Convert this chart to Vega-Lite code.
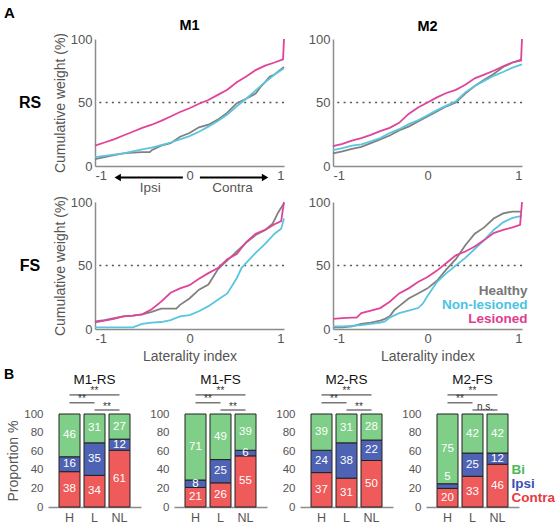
{
  "$schema": "https://vega.github.io/schema/vega-lite/v6.json",
  "background": "white",
  "padding": {"left": 4, "top": 5, "right": 0, "bottom": 0},
  "title": {"text": "A", "anchor": "start", "frame": "group", "fontSize": 15, "fontWeight": "bold", "color": "#000", "offset": -3},
  "spacing": 5,
  "resolve": {"scale": {"color": "independent", "shape": "independent"}},
  "config": {
    "font": "Liberation Sans",
    "view": {"stroke": null},
    "axis": {"grid": false, "ticks": false, "domainColor": "#8c8c8c", "domainWidth": 1.5, "labelColor": "#555", "labelFontSize": 13, "titleColor": "#555", "titleFontSize": 14, "titleFontWeight": "normal", "labelPadding": 3, "titlePadding": 3, "labelOverlap": false},
    "title": {"color": "#000"}
  },
  "datasets": {
    "curves": [
      {"panel":"M1-RS","series":"Healthy","li":-1,"w":5.5},{"panel":"M1-RS","series":"Healthy","li":-0.9,"w":7},{"panel":"M1-RS","series":"Healthy","li":-0.8,"w":8.5},{"panel":"M1-RS","series":"Healthy","li":-0.7,"w":10},{"panel":"M1-RS","series":"Healthy","li":-0.6,"w":10.5},{"panel":"M1-RS","series":"Healthy","li":-0.5,"w":11},{"panel":"M1-RS","series":"Healthy","li":-0.42,"w":11},{"panel":"M1-RS","series":"Healthy","li":-0.4,"w":12.5},{"panel":"M1-RS","series":"Healthy","li":-0.3,"w":16},{"panel":"M1-RS","series":"Healthy","li":-0.2,"w":18},{"panel":"M1-RS","series":"Healthy","li":-0.1,"w":23},{"panel":"M1-RS","series":"Healthy","li":0,"w":26},{"panel":"M1-RS","series":"Healthy","li":0.1,"w":30.5},{"panel":"M1-RS","series":"Healthy","li":0.2,"w":32.5},{"panel":"M1-RS","series":"Healthy","li":0.3,"w":36.5},{"panel":"M1-RS","series":"Healthy","li":0.4,"w":42},{"panel":"M1-RS","series":"Healthy","li":0.5,"w":49.5},{"panel":"M1-RS","series":"Healthy","li":0.6,"w":53},{"panel":"M1-RS","series":"Healthy","li":0.7,"w":57},{"panel":"M1-RS","series":"Healthy","li":0.75,"w":62},{"panel":"M1-RS","series":"Healthy","li":0.8,"w":66},{"panel":"M1-RS","series":"Healthy","li":0.85,"w":70.5},{"panel":"M1-RS","series":"Healthy","li":0.9,"w":72},{"panel":"M1-RS","series":"Healthy","li":0.95,"w":75},{"panel":"M1-RS","series":"Healthy","li":1,"w":78},
      {"panel":"M1-RS","series":"Non-lesioned","li":-1,"w":7},{"panel":"M1-RS","series":"Non-lesioned","li":-0.9,"w":8},{"panel":"M1-RS","series":"Non-lesioned","li":-0.8,"w":9},{"panel":"M1-RS","series":"Non-lesioned","li":-0.7,"w":10},{"panel":"M1-RS","series":"Non-lesioned","li":-0.6,"w":11.5},{"panel":"M1-RS","series":"Non-lesioned","li":-0.5,"w":13},{"panel":"M1-RS","series":"Non-lesioned","li":-0.4,"w":14.5},{"panel":"M1-RS","series":"Non-lesioned","li":-0.3,"w":16.5},{"panel":"M1-RS","series":"Non-lesioned","li":-0.2,"w":18.5},{"panel":"M1-RS","series":"Non-lesioned","li":-0.1,"w":21},{"panel":"M1-RS","series":"Non-lesioned","li":0,"w":23.5},{"panel":"M1-RS","series":"Non-lesioned","li":0.1,"w":27},{"panel":"M1-RS","series":"Non-lesioned","li":0.2,"w":31},{"panel":"M1-RS","series":"Non-lesioned","li":0.3,"w":35.5},{"panel":"M1-RS","series":"Non-lesioned","li":0.4,"w":40.5},{"panel":"M1-RS","series":"Non-lesioned","li":0.5,"w":47},{"panel":"M1-RS","series":"Non-lesioned","li":0.6,"w":53},{"panel":"M1-RS","series":"Non-lesioned","li":0.7,"w":59.5},{"panel":"M1-RS","series":"Non-lesioned","li":0.8,"w":66},{"panel":"M1-RS","series":"Non-lesioned","li":0.9,"w":72},{"panel":"M1-RS","series":"Non-lesioned","li":1,"w":77},
      {"panel":"M1-RS","series":"Lesioned","li":-1,"w":16},{"panel":"M1-RS","series":"Lesioned","li":-0.9,"w":18.5},{"panel":"M1-RS","series":"Lesioned","li":-0.8,"w":21},{"panel":"M1-RS","series":"Lesioned","li":-0.7,"w":24},{"panel":"M1-RS","series":"Lesioned","li":-0.6,"w":27},{"panel":"M1-RS","series":"Lesioned","li":-0.5,"w":30},{"panel":"M1-RS","series":"Lesioned","li":-0.4,"w":32.5},{"panel":"M1-RS","series":"Lesioned","li":-0.3,"w":35.5},{"panel":"M1-RS","series":"Lesioned","li":-0.2,"w":39},{"panel":"M1-RS","series":"Lesioned","li":-0.1,"w":42.5},{"panel":"M1-RS","series":"Lesioned","li":0,"w":45.5},{"panel":"M1-RS","series":"Lesioned","li":0.1,"w":49},{"panel":"M1-RS","series":"Lesioned","li":0.2,"w":52},{"panel":"M1-RS","series":"Lesioned","li":0.3,"w":56},{"panel":"M1-RS","series":"Lesioned","li":0.4,"w":60},{"panel":"M1-RS","series":"Lesioned","li":0.5,"w":66},{"panel":"M1-RS","series":"Lesioned","li":0.6,"w":70.5},{"panel":"M1-RS","series":"Lesioned","li":0.7,"w":75.5},{"panel":"M1-RS","series":"Lesioned","li":0.8,"w":79},{"panel":"M1-RS","series":"Lesioned","li":0.9,"w":81.5},{"panel":"M1-RS","series":"Lesioned","li":0.99,"w":84},{"panel":"M1-RS","series":"Lesioned","li":1,"w":100},
      {"panel":"M2-RS","series":"Healthy","li":-1,"w":10},{"panel":"M2-RS","series":"Healthy","li":-0.9,"w":11.5},{"panel":"M2-RS","series":"Healthy","li":-0.8,"w":13.5},{"panel":"M2-RS","series":"Healthy","li":-0.7,"w":15},{"panel":"M2-RS","series":"Healthy","li":-0.6,"w":18},{"panel":"M2-RS","series":"Healthy","li":-0.5,"w":21},{"panel":"M2-RS","series":"Healthy","li":-0.4,"w":24},{"panel":"M2-RS","series":"Healthy","li":-0.3,"w":28},{"panel":"M2-RS","series":"Healthy","li":-0.2,"w":31},{"panel":"M2-RS","series":"Healthy","li":-0.1,"w":35},{"panel":"M2-RS","series":"Healthy","li":0,"w":39},{"panel":"M2-RS","series":"Healthy","li":0.1,"w":43},{"panel":"M2-RS","series":"Healthy","li":0.2,"w":47},{"panel":"M2-RS","series":"Healthy","li":0.3,"w":50},{"panel":"M2-RS","series":"Healthy","li":0.4,"w":57},{"panel":"M2-RS","series":"Healthy","li":0.5,"w":63},{"panel":"M2-RS","series":"Healthy","li":0.6,"w":68},{"panel":"M2-RS","series":"Healthy","li":0.7,"w":72.5},{"panel":"M2-RS","series":"Healthy","li":0.8,"w":78},{"panel":"M2-RS","series":"Healthy","li":0.9,"w":81.5},{"panel":"M2-RS","series":"Healthy","li":1,"w":84},
      {"panel":"M2-RS","series":"Non-lesioned","li":-1,"w":12.5},{"panel":"M2-RS","series":"Non-lesioned","li":-0.9,"w":14},{"panel":"M2-RS","series":"Non-lesioned","li":-0.8,"w":16},{"panel":"M2-RS","series":"Non-lesioned","li":-0.7,"w":17},{"panel":"M2-RS","series":"Non-lesioned","li":-0.6,"w":19.5},{"panel":"M2-RS","series":"Non-lesioned","li":-0.5,"w":22},{"panel":"M2-RS","series":"Non-lesioned","li":-0.4,"w":26},{"panel":"M2-RS","series":"Non-lesioned","li":-0.3,"w":29},{"panel":"M2-RS","series":"Non-lesioned","li":-0.2,"w":33},{"panel":"M2-RS","series":"Non-lesioned","li":-0.1,"w":36},{"panel":"M2-RS","series":"Non-lesioned","li":0,"w":40},{"panel":"M2-RS","series":"Non-lesioned","li":0.1,"w":44},{"panel":"M2-RS","series":"Non-lesioned","li":0.2,"w":47.5},{"panel":"M2-RS","series":"Non-lesioned","li":0.3,"w":51},{"panel":"M2-RS","series":"Non-lesioned","li":0.4,"w":58},{"panel":"M2-RS","series":"Non-lesioned","li":0.5,"w":63},{"panel":"M2-RS","series":"Non-lesioned","li":0.6,"w":67},{"panel":"M2-RS","series":"Non-lesioned","li":0.7,"w":71},{"panel":"M2-RS","series":"Non-lesioned","li":0.8,"w":74},{"panel":"M2-RS","series":"Non-lesioned","li":0.9,"w":77.5},{"panel":"M2-RS","series":"Non-lesioned","li":1,"w":80},
      {"panel":"M2-RS","series":"Lesioned","li":-1,"w":15.7},{"panel":"M2-RS","series":"Lesioned","li":-0.9,"w":17.5},{"panel":"M2-RS","series":"Lesioned","li":-0.8,"w":20},{"panel":"M2-RS","series":"Lesioned","li":-0.7,"w":22},{"panel":"M2-RS","series":"Lesioned","li":-0.6,"w":24.5},{"panel":"M2-RS","series":"Lesioned","li":-0.5,"w":27.5},{"panel":"M2-RS","series":"Lesioned","li":-0.4,"w":30},{"panel":"M2-RS","series":"Lesioned","li":-0.3,"w":34},{"panel":"M2-RS","series":"Lesioned","li":-0.2,"w":41},{"panel":"M2-RS","series":"Lesioned","li":-0.1,"w":46},{"panel":"M2-RS","series":"Lesioned","li":0,"w":50},{"panel":"M2-RS","series":"Lesioned","li":0.1,"w":54},{"panel":"M2-RS","series":"Lesioned","li":0.2,"w":57.5},{"panel":"M2-RS","series":"Lesioned","li":0.3,"w":60},{"panel":"M2-RS","series":"Lesioned","li":0.4,"w":64},{"panel":"M2-RS","series":"Lesioned","li":0.5,"w":69},{"panel":"M2-RS","series":"Lesioned","li":0.6,"w":72},{"panel":"M2-RS","series":"Lesioned","li":0.7,"w":75},{"panel":"M2-RS","series":"Lesioned","li":0.8,"w":78.5},{"panel":"M2-RS","series":"Lesioned","li":0.9,"w":81.5},{"panel":"M2-RS","series":"Lesioned","li":0.99,"w":83},{"panel":"M2-RS","series":"Lesioned","li":1,"w":100},
      {"panel":"M1-FS","series":"Healthy","li":-1,"w":6},{"panel":"M1-FS","series":"Healthy","li":-0.9,"w":7},{"panel":"M1-FS","series":"Healthy","li":-0.8,"w":8.5},{"panel":"M1-FS","series":"Healthy","li":-0.7,"w":10},{"panel":"M1-FS","series":"Healthy","li":-0.6,"w":10.5},{"panel":"M1-FS","series":"Healthy","li":-0.5,"w":11.5},{"panel":"M1-FS","series":"Healthy","li":-0.4,"w":13.5},{"panel":"M1-FS","series":"Healthy","li":-0.3,"w":16},{"panel":"M1-FS","series":"Healthy","li":-0.2,"w":16},{"panel":"M1-FS","series":"Healthy","li":-0.14,"w":16},{"panel":"M1-FS","series":"Healthy","li":-0.1,"w":19},{"panel":"M1-FS","series":"Healthy","li":0,"w":24},{"panel":"M1-FS","series":"Healthy","li":0.1,"w":31},{"panel":"M1-FS","series":"Healthy","li":0.2,"w":35},{"panel":"M1-FS","series":"Healthy","li":0.25,"w":41},{"panel":"M1-FS","series":"Healthy","li":0.3,"w":47},{"panel":"M1-FS","series":"Healthy","li":0.4,"w":54},{"panel":"M1-FS","series":"Healthy","li":0.5,"w":61},{"panel":"M1-FS","series":"Healthy","li":0.6,"w":68},{"panel":"M1-FS","series":"Healthy","li":0.7,"w":74},{"panel":"M1-FS","series":"Healthy","li":0.8,"w":78},{"panel":"M1-FS","series":"Healthy","li":0.88,"w":83},{"panel":"M1-FS","series":"Healthy","li":0.94,"w":92},{"panel":"M1-FS","series":"Healthy","li":1,"w":99},
      {"panel":"M1-FS","series":"Non-lesioned","li":-1,"w":1.3},{"panel":"M1-FS","series":"Non-lesioned","li":-0.6,"w":1.3},{"panel":"M1-FS","series":"Non-lesioned","li":-0.5,"w":4},{"panel":"M1-FS","series":"Non-lesioned","li":-0.4,"w":5},{"panel":"M1-FS","series":"Non-lesioned","li":-0.3,"w":5.5},{"panel":"M1-FS","series":"Non-lesioned","li":-0.2,"w":7},{"panel":"M1-FS","series":"Non-lesioned","li":-0.1,"w":10},{"panel":"M1-FS","series":"Non-lesioned","li":0,"w":11},{"panel":"M1-FS","series":"Non-lesioned","li":0.1,"w":14},{"panel":"M1-FS","series":"Non-lesioned","li":0.2,"w":18},{"panel":"M1-FS","series":"Non-lesioned","li":0.3,"w":23},{"panel":"M1-FS","series":"Non-lesioned","li":0.4,"w":28},{"panel":"M1-FS","series":"Non-lesioned","li":0.5,"w":40},{"panel":"M1-FS","series":"Non-lesioned","li":0.55,"w":48},{"panel":"M1-FS","series":"Non-lesioned","li":0.6,"w":52},{"panel":"M1-FS","series":"Non-lesioned","li":0.7,"w":60},{"panel":"M1-FS","series":"Non-lesioned","li":0.8,"w":67},{"panel":"M1-FS","series":"Non-lesioned","li":0.9,"w":75},{"panel":"M1-FS","series":"Non-lesioned","li":0.97,"w":79},{"panel":"M1-FS","series":"Non-lesioned","li":1,"w":87},
      {"panel":"M1-FS","series":"Lesioned","li":-1,"w":5.3},{"panel":"M1-FS","series":"Lesioned","li":-0.9,"w":6.6},{"panel":"M1-FS","series":"Lesioned","li":-0.8,"w":8},{"panel":"M1-FS","series":"Lesioned","li":-0.7,"w":10},{"panel":"M1-FS","series":"Lesioned","li":-0.6,"w":10.5},{"panel":"M1-FS","series":"Lesioned","li":-0.5,"w":11.5},{"panel":"M1-FS","series":"Lesioned","li":-0.4,"w":15.5},{"panel":"M1-FS","series":"Lesioned","li":-0.3,"w":21.5},{"panel":"M1-FS","series":"Lesioned","li":-0.2,"w":28.5},{"panel":"M1-FS","series":"Lesioned","li":-0.1,"w":32},{"panel":"M1-FS","series":"Lesioned","li":0,"w":34.5},{"panel":"M1-FS","series":"Lesioned","li":0.1,"w":39.5},{"panel":"M1-FS","series":"Lesioned","li":0.2,"w":44},{"panel":"M1-FS","series":"Lesioned","li":0.3,"w":48},{"panel":"M1-FS","series":"Lesioned","li":0.4,"w":55},{"panel":"M1-FS","series":"Lesioned","li":0.5,"w":59},{"panel":"M1-FS","series":"Lesioned","li":0.6,"w":68.5},{"panel":"M1-FS","series":"Lesioned","li":0.7,"w":75},{"panel":"M1-FS","series":"Lesioned","li":0.8,"w":78},{"panel":"M1-FS","series":"Lesioned","li":0.9,"w":82.5},{"panel":"M1-FS","series":"Lesioned","li":0.97,"w":85},{"panel":"M1-FS","series":"Lesioned","li":1,"w":100},
      {"panel":"M2-FS","series":"Healthy","li":-1,"w":1.3},{"panel":"M2-FS","series":"Healthy","li":-0.9,"w":1.3},{"panel":"M2-FS","series":"Healthy","li":-0.8,"w":2},{"panel":"M2-FS","series":"Healthy","li":-0.7,"w":4},{"panel":"M2-FS","series":"Healthy","li":-0.6,"w":5},{"panel":"M2-FS","series":"Healthy","li":-0.5,"w":6.6},{"panel":"M2-FS","series":"Healthy","li":-0.45,"w":8},{"panel":"M2-FS","series":"Healthy","li":-0.4,"w":10},{"panel":"M2-FS","series":"Healthy","li":-0.35,"w":15},{"panel":"M2-FS","series":"Healthy","li":-0.3,"w":18},{"panel":"M2-FS","series":"Healthy","li":-0.2,"w":24},{"panel":"M2-FS","series":"Healthy","li":-0.1,"w":28},{"panel":"M2-FS","series":"Healthy","li":0,"w":32},{"panel":"M2-FS","series":"Healthy","li":0.1,"w":38},{"panel":"M2-FS","series":"Healthy","li":0.2,"w":47},{"panel":"M2-FS","series":"Healthy","li":0.3,"w":55},{"panel":"M2-FS","series":"Healthy","li":0.4,"w":66},{"panel":"M2-FS","series":"Healthy","li":0.5,"w":75},{"panel":"M2-FS","series":"Healthy","li":0.6,"w":80},{"panel":"M2-FS","series":"Healthy","li":0.7,"w":87},{"panel":"M2-FS","series":"Healthy","li":0.8,"w":91},{"panel":"M2-FS","series":"Healthy","li":0.9,"w":92.5},{"panel":"M2-FS","series":"Healthy","li":1,"w":92.5},
      {"panel":"M2-FS","series":"Non-lesioned","li":-1,"w":2},{"panel":"M2-FS","series":"Non-lesioned","li":-0.9,"w":2},{"panel":"M2-FS","series":"Non-lesioned","li":-0.8,"w":2.5},{"panel":"M2-FS","series":"Non-lesioned","li":-0.7,"w":3},{"panel":"M2-FS","series":"Non-lesioned","li":-0.6,"w":4},{"panel":"M2-FS","series":"Non-lesioned","li":-0.5,"w":5},{"panel":"M2-FS","series":"Non-lesioned","li":-0.45,"w":6},{"panel":"M2-FS","series":"Non-lesioned","li":-0.4,"w":9},{"panel":"M2-FS","series":"Non-lesioned","li":-0.3,"w":12.5},{"panel":"M2-FS","series":"Non-lesioned","li":-0.2,"w":14.5},{"panel":"M2-FS","series":"Non-lesioned","li":-0.1,"w":16.5},{"panel":"M2-FS","series":"Non-lesioned","li":-0.05,"w":20},{"panel":"M2-FS","series":"Non-lesioned","li":0,"w":26},{"panel":"M2-FS","series":"Non-lesioned","li":0.1,"w":37},{"panel":"M2-FS","series":"Non-lesioned","li":0.2,"w":44},{"panel":"M2-FS","series":"Non-lesioned","li":0.3,"w":50},{"panel":"M2-FS","series":"Non-lesioned","li":0.4,"w":56},{"panel":"M2-FS","series":"Non-lesioned","li":0.5,"w":63},{"panel":"M2-FS","series":"Non-lesioned","li":0.6,"w":70},{"panel":"M2-FS","series":"Non-lesioned","li":0.7,"w":78},{"panel":"M2-FS","series":"Non-lesioned","li":0.8,"w":84},{"panel":"M2-FS","series":"Non-lesioned","li":0.9,"w":87.5},{"panel":"M2-FS","series":"Non-lesioned","li":1,"w":89},
      {"panel":"M2-FS","series":"Lesioned","li":-1,"w":8},{"panel":"M2-FS","series":"Lesioned","li":-0.9,"w":8.5},{"panel":"M2-FS","series":"Lesioned","li":-0.8,"w":9},{"panel":"M2-FS","series":"Lesioned","li":-0.75,"w":9},{"panel":"M2-FS","series":"Lesioned","li":-0.7,"w":12.5},{"panel":"M2-FS","series":"Lesioned","li":-0.6,"w":14.5},{"panel":"M2-FS","series":"Lesioned","li":-0.5,"w":16.5},{"panel":"M2-FS","series":"Lesioned","li":-0.4,"w":21.5},{"panel":"M2-FS","series":"Lesioned","li":-0.3,"w":28},{"panel":"M2-FS","series":"Lesioned","li":-0.2,"w":32},{"panel":"M2-FS","series":"Lesioned","li":-0.1,"w":37},{"panel":"M2-FS","series":"Lesioned","li":0,"w":41},{"panel":"M2-FS","series":"Lesioned","li":0.1,"w":46},{"panel":"M2-FS","series":"Lesioned","li":0.2,"w":52},{"panel":"M2-FS","series":"Lesioned","li":0.3,"w":58},{"panel":"M2-FS","series":"Lesioned","li":0.4,"w":61},{"panel":"M2-FS","series":"Lesioned","li":0.5,"w":65},{"panel":"M2-FS","series":"Lesioned","li":0.6,"w":70},{"panel":"M2-FS","series":"Lesioned","li":0.7,"w":75.5},{"panel":"M2-FS","series":"Lesioned","li":0.8,"w":78},{"panel":"M2-FS","series":"Lesioned","li":0.9,"w":80},{"panel":"M2-FS","series":"Lesioned","li":0.98,"w":82},{"panel":"M2-FS","series":"Lesioned","li":1,"w":100}
    ],
    "bars": [
      {"panel":"M1-RS","group":"H","type":"Contra","rank":1,"pct":38},{"panel":"M1-RS","group":"H","type":"Ipsi","rank":2,"pct":16},{"panel":"M1-RS","group":"H","type":"Bi","rank":3,"pct":46},
      {"panel":"M1-RS","group":"L","type":"Contra","rank":1,"pct":34},{"panel":"M1-RS","group":"L","type":"Ipsi","rank":2,"pct":35},{"panel":"M1-RS","group":"L","type":"Bi","rank":3,"pct":31},
      {"panel":"M1-RS","group":"NL","type":"Contra","rank":1,"pct":61},{"panel":"M1-RS","group":"NL","type":"Ipsi","rank":2,"pct":12},{"panel":"M1-RS","group":"NL","type":"Bi","rank":3,"pct":27},
      {"panel":"M1-FS","group":"H","type":"Contra","rank":1,"pct":21},{"panel":"M1-FS","group":"H","type":"Ipsi","rank":2,"pct":8},{"panel":"M1-FS","group":"H","type":"Bi","rank":3,"pct":71},
      {"panel":"M1-FS","group":"L","type":"Contra","rank":1,"pct":26},{"panel":"M1-FS","group":"L","type":"Ipsi","rank":2,"pct":25},{"panel":"M1-FS","group":"L","type":"Bi","rank":3,"pct":49},
      {"panel":"M1-FS","group":"NL","type":"Contra","rank":1,"pct":55},{"panel":"M1-FS","group":"NL","type":"Ipsi","rank":2,"pct":6},{"panel":"M1-FS","group":"NL","type":"Bi","rank":3,"pct":39},
      {"panel":"M2-RS","group":"H","type":"Contra","rank":1,"pct":37},{"panel":"M2-RS","group":"H","type":"Ipsi","rank":2,"pct":24},{"panel":"M2-RS","group":"H","type":"Bi","rank":3,"pct":39},
      {"panel":"M2-RS","group":"L","type":"Contra","rank":1,"pct":31},{"panel":"M2-RS","group":"L","type":"Ipsi","rank":2,"pct":38},{"panel":"M2-RS","group":"L","type":"Bi","rank":3,"pct":31},
      {"panel":"M2-RS","group":"NL","type":"Contra","rank":1,"pct":50},{"panel":"M2-RS","group":"NL","type":"Ipsi","rank":2,"pct":22},{"panel":"M2-RS","group":"NL","type":"Bi","rank":3,"pct":28},
      {"panel":"M2-FS","group":"H","type":"Contra","rank":1,"pct":20},{"panel":"M2-FS","group":"H","type":"Ipsi","rank":2,"pct":5},{"panel":"M2-FS","group":"H","type":"Bi","rank":3,"pct":75},
      {"panel":"M2-FS","group":"L","type":"Contra","rank":1,"pct":33},{"panel":"M2-FS","group":"L","type":"Ipsi","rank":2,"pct":25},{"panel":"M2-FS","group":"L","type":"Bi","rank":3,"pct":42},
      {"panel":"M2-FS","group":"NL","type":"Contra","rank":1,"pct":46},{"panel":"M2-FS","group":"NL","type":"Ipsi","rank":2,"pct":12},{"panel":"M2-FS","group":"NL","type":"Bi","rank":3,"pct":42}
    ],
    "sig": [
      {"panel":"M1-RS","a":"H","b":"NL","p":"**"},{"panel":"M1-RS","a":"H","b":"L","p":"**"},{"panel":"M1-RS","a":"L","b":"NL","p":"**"},
      {"panel":"M1-FS","a":"H","b":"NL","p":"**"},{"panel":"M1-FS","a":"H","b":"L","p":"**"},{"panel":"M1-FS","a":"L","b":"NL","p":"**"},
      {"panel":"M2-RS","a":"H","b":"NL","p":"**"},{"panel":"M2-RS","a":"H","b":"L","p":"**"},{"panel":"M2-RS","a":"L","b":"NL","p":"**"},
      {"panel":"M2-FS","a":"H","b":"NL","p":"**"},{"panel":"M2-FS","a":"H","b":"L","p":"**"},{"panel":"M2-FS","a":"L","b":"NL","p":"n.s."}
    ],
    "arrows": [
      {"side":"Ipsi","from":-0.07,"to":-0.76},
      {"side":"Contra","from":0.11,"to":0.8}
    ]
  },
  "vconcat": [
    {
      "spacing": 0,
      "resolve": {"scale": {"color": "independent", "shape": "independent"}},
      "vconcat": [
        {
          "bounds": "flush",
          "spacing": 49,
          "hconcat": [
            {
              "width": 42, "height": 127,
              "data": {"values": [{"row": "RS"}]},
              "mark": {"type": "text", "fontSize": 16, "fontWeight": "bold", "color": "#000", "dx": 5},
              "encoding": {"text": {"field": "row"}}
            },
            {
              "width": 189, "height": 127,
              "title": {"text": "M1", "fontSize": 14.5, "fontWeight": "bold", "offset": -1},
              "layer": [
                {
                  "data": {"values": [{"w": 50}]},
                  "mark": {"type": "rule", "color": "#555", "strokeDash": [2, 4.3], "strokeWidth": 1.3},
                  "encoding": {"y": {"field": "w", "type": "quantitative", "title": "Cumulative weight (%)"}}
                },
                {
                  "data": {"name": "curves"},
                  "transform": [{"filter": "datum.panel === 'M1-RS'"}],
                  "mark": {"type": "line", "strokeWidth": 1.8},
                  "encoding": {
                    "x": {"field": "li", "type": "quantitative", "title": null, "scale": {"domain": [-1, 1], "nice": false}, "axis": {"values": [-1, 0, 1], "labelExpr": "'' + datum.value"}},
                    "y": {"field": "w", "type": "quantitative", "title": "Cumulative weight (%)", "scale": {"domain": [0, 100], "nice": false}, "axis": {"values": [0, 50, 100]}},
                    "color": {"field": "series", "type": "nominal", "scale": {"domain": ["Healthy", "Non-lesioned", "Lesioned"], "range": ["#808080", "#5ac5df", "#e0449a"]}, "legend": null}
                  }
                },
                {
                  "data": {"name": "arrows"},
                  "mark": {"type": "rule", "color": "#000", "strokeWidth": 2},
                  "encoding": {
                    "x": {"field": "from", "type": "quantitative", "title": null},
                    "x2": {"field": "to"},
                    "y": {"datum": -9}
                  }
                },
                {
                  "data": {"name": "arrows"},
                  "mark": {"type": "point", "filled": true, "color": "#000", "size": 55, "opacity": 1},
                  "encoding": {
                    "x": {"field": "to", "type": "quantitative", "title": null},
                    "y": {"datum": -9},
                    "shape": {"field": "side", "type": "nominal", "scale": {"domain": ["Ipsi", "Contra"], "range": ["triangle-left", "triangle-right"]}, "legend": null}
                  }
                },
                {
                  "data": {"name": "arrows"},
                  "transform": [{"fold": ["from", "to"], "as": ["end", "pos"]}],
                  "mark": {"type": "text", "fontSize": 13.5, "color": "#555"},
                  "encoding": {
                    "x": {"aggregate": "mean", "field": "pos", "type": "quantitative", "title": null},
                    "y": {"datum": -17},
                    "text": {"field": "side", "type": "nominal"}
                  }
                }
              ]
            },
            {
              "width": 189, "height": 127,
              "title": {"text": "M2", "fontSize": 14.5, "fontWeight": "bold", "offset": -1},
              "layer": [
                {
                  "data": {"values": [{"w": 50}]},
                  "mark": {"type": "rule", "color": "#555", "strokeDash": [2, 4.3], "strokeWidth": 1.3},
                  "encoding": {"y": {"field": "w", "type": "quantitative", "title": null}}
                },
                {
                  "data": {"name": "curves"},
                  "transform": [{"filter": "datum.panel === 'M2-RS'"}],
                  "mark": {"type": "line", "strokeWidth": 1.8},
                  "encoding": {
                    "x": {"field": "li", "type": "quantitative", "title": null, "scale": {"domain": [-1, 1], "nice": false}, "axis": {"values": [-1, 0, 1], "labelExpr": "'' + datum.value"}},
                    "y": {"field": "w", "type": "quantitative", "title": null, "scale": {"domain": [0, 100], "nice": false}, "axis": {"values": [0, 50, 100]}},
                    "color": {"field": "series", "type": "nominal", "scale": {"domain": ["Healthy", "Non-lesioned", "Lesioned"], "range": ["#808080", "#5ac5df", "#e0449a"]}, "legend": null}
                  }
                }
              ]
            }
          ]
        },
        {
          "bounds": "flush",
          "spacing": 49,
          "resolve": {"scale": {"color": "independent"}},
          "hconcat": [
            {
              "width": 42, "height": 127,
              "data": {"values": [{"row": "FS"}]},
              "mark": {"type": "text", "fontSize": 16, "fontWeight": "bold", "color": "#000", "dx": 5},
              "encoding": {"text": {"field": "row"}}
            },
            {
              "width": 189, "height": 127,
              "layer": [
                {
                  "data": {"values": [{"w": 50}]},
                  "mark": {"type": "rule", "color": "#555", "strokeDash": [2, 4.3], "strokeWidth": 1.3},
                  "encoding": {"y": {"field": "w", "type": "quantitative", "title": "Cumulative weight (%)"}}
                },
                {
                  "data": {"name": "curves"},
                  "transform": [{"filter": "datum.panel === 'M1-FS'"}],
                  "mark": {"type": "line", "strokeWidth": 1.8},
                  "encoding": {
                    "x": {"field": "li", "type": "quantitative", "title": "Laterality index", "scale": {"domain": [-1, 1], "nice": false}, "axis": {"values": [-1, 0, 1], "labelExpr": "'' + datum.value", "titlePadding": 4}},
                    "y": {"field": "w", "type": "quantitative", "title": "Cumulative weight (%)", "scale": {"domain": [0, 100], "nice": false}, "axis": {"values": [0, 50, 100]}},
                    "color": {"field": "series", "type": "nominal", "scale": {"domain": ["Healthy", "Non-lesioned", "Lesioned"], "range": ["#808080", "#5ac5df", "#e0449a"]}, "legend": null}
                  }
                }
              ]
            },
            {
              "width": 189, "height": 127,
              "layer": [
                {
                  "data": {"values": [{"w": 50}]},
                  "mark": {"type": "rule", "color": "#555", "strokeDash": [2, 4.3], "strokeWidth": 1.3},
                  "encoding": {"y": {"field": "w", "type": "quantitative", "title": null}}
                },
                {
                  "data": {"name": "curves"},
                  "transform": [{"filter": "datum.panel === 'M2-FS'"}],
                  "mark": {"type": "line", "strokeWidth": 1.8},
                  "encoding": {
                    "x": {"field": "li", "type": "quantitative", "title": "Laterality index", "scale": {"domain": [-1, 1], "nice": false}, "axis": {"values": [-1, 0, 1], "labelExpr": "'' + datum.value", "titlePadding": 4}},
                    "y": {"field": "w", "type": "quantitative", "title": null, "scale": {"domain": [0, 100], "nice": false}, "axis": {"values": [0, 50, 100]}},
                    "color": {
                      "field": "series", "type": "nominal",
                      "scale": {"domain": ["Healthy", "Non-lesioned", "Lesioned"], "range": ["#808080", "#5ac5df", "#e0449a"]},
                      "legend": {"orient": "none", "legendX": 181, "legendY": 82, "title": null, "padding": 0, "symbolSize": 0, "symbolStrokeWidth": 0, "labelOffset": 0, "labelAlign": "right", "labelFontSize": 13.5, "labelFontWeight": "bold", "rowPadding": -1,
                        "labelColor": {"expr": "datum.value === 'Healthy' ? '#777777' : datum.value === 'Lesioned' ? '#dd3d8f' : '#4cc3e4'"}}
                    }
                  }
                }
              ]
            }
          ]
        }
      ]
    },
    {
      "bounds": "flush",
      "spacing": 33,
      "resolve": {"scale": {"color": "independent"}},
      "hconcat": [
        {
          "width": 11, "height": 93,
          "title": {"text": "B", "anchor": "start", "frame": "group", "fontSize": 14, "fontWeight": "bold", "offset": 32},
          "data": {"values": []},
          "mark": "point",
          "encoding": {}
        },
        {
          "width": 93, "height": 93,
          "title": {"text": "M1-RS", "fontSize": 13.5, "fontWeight": "normal", "color": "#111", "offset": 0},
          "layer": [
            {
              "data": {"name": "bars"},
              "transform": [{"filter": "datum.panel === 'M1-RS'"}],
              "mark": {"type": "bar", "stroke": "#222", "strokeWidth": 1},
              "encoding": {
                "x": {"field": "group", "type": "nominal", "sort": ["H", "L", "NL"], "title": null, "scale": {"paddingInner": 0.16, "paddingOuter": 0.44}, "axis": {"labelAngle": 0, "labelFontSize": 12.5, "labelPadding": 4}},
                "y": {"field": "pct", "type": "quantitative", "stack": "zero", "title": "Proportion %", "scale": {"domain": [0, 100], "nice": false}, "axis": {"values": [0, 20, 40, 60, 80, 100], "tickCount": 6, "domain": false, "labelFontSize": 11.5, "labelPadding": 5}},
                "color": {"field": "type", "type": "nominal", "scale": {"domain": ["Bi", "Ipsi", "Contra"], "range": ["#7fcf88", "#4e63b3", "#ef5a5a"]}, "legend": null},
                "order": {"field": "rank", "type": "quantitative"}
              }
            },
            {
              "data": {"name": "bars"},
              "transform": [{"filter": "datum.panel === 'M1-RS'"}, {"stack": "pct", "groupby": ["group"], "sort": [{"field": "rank", "order": "ascending"}], "as": ["lo", "hi"]}, {"fold": ["lo", "hi"], "as": ["edge", "v"]}],
              "mark": {"type": "text", "color": "#fff", "fontSize": 11.5},
              "encoding": {
                "x": {"field": "group", "type": "nominal", "sort": ["H", "L", "NL"], "title": null},
                "y": {"aggregate": "mean", "field": "v", "type": "quantitative", "title": "Proportion %", "axis": {"values": [0, 20, 40, 60, 80, 100], "tickCount": 6, "domain": false, "labelFontSize": 11.5, "labelPadding": 5}},
                "text": {"field": "pct", "type": "quantitative"},
                "detail": {"field": "type", "type": "nominal"}
              }
            },
            {
              "data": {"name": "sig"},
              "transform": [{"filter": "datum.panel === 'M1-RS' && datum.a === 'H' && datum.b === 'NL'"}],
              "layer": [
                {"mark": {"type": "rule", "color": "#333", "strokeWidth": 1}, "encoding": {"x": {"field": "a", "type": "nominal", "sort": ["H", "L", "NL"], "title": null}, "x2": {"field": "b"}, "y": {"datum": 120.5}}},
                {"mark": {"type": "text", "fontSize": 10, "color": "#333", "baseline": "alphabetic", "dy": -0.5}, "encoding": {"x": {"field": "a", "type": "nominal", "sort": ["H", "L", "NL"], "title": null, "bandPosition": 1.69}, "y": {"datum": 120.5}, "text": {"field": "p"}}}
              ]
            },
            {
              "data": {"name": "sig"},
              "transform": [{"filter": "datum.panel === 'M1-RS' && datum.a === 'H' && datum.b === 'L'"}],
              "layer": [
                {"mark": {"type": "rule", "color": "#333", "strokeWidth": 1}, "encoding": {"x": {"field": "a", "type": "nominal", "sort": ["H", "L", "NL"], "title": null}, "x2": {"field": "b"}, "y": {"datum": 112}}},
                {"mark": {"type": "text", "fontSize": 10, "color": "#333", "baseline": "alphabetic", "dy": -0.5}, "encoding": {"x": {"field": "a", "type": "nominal", "sort": ["H", "L", "NL"], "title": null, "bandPosition": 1.095}, "y": {"datum": 112}, "text": {"field": "p"}}}
              ]
            },
            {
              "data": {"name": "sig"},
              "transform": [{"filter": "datum.panel === 'M1-RS' && datum.a === 'L' && datum.b === 'NL'"}],
              "layer": [
                {"mark": {"type": "rule", "color": "#333", "strokeWidth": 1}, "encoding": {"x": {"field": "a", "type": "nominal", "sort": ["H", "L", "NL"], "title": null}, "x2": {"field": "b"}, "y": {"datum": 104.3}}},
                {"mark": {"type": "text", "fontSize": 10, "color": "#333", "baseline": "alphabetic", "dy": -0.5}, "encoding": {"x": {"field": "a", "type": "nominal", "sort": ["H", "L", "NL"], "title": null, "bandPosition": 1.095}, "y": {"datum": 104.3}, "text": {"field": "p"}}}
              ]
            }
          ]
        },
        {
          "width": 93, "height": 93,
          "title": {"text": "M1-FS", "fontSize": 13.5, "fontWeight": "normal", "color": "#111", "offset": 0},
          "layer": [
            {
              "data": {"name": "bars"},
              "transform": [{"filter": "datum.panel === 'M1-FS'"}],
              "mark": {"type": "bar", "stroke": "#222", "strokeWidth": 1},
              "encoding": {
                "x": {"field": "group", "type": "nominal", "sort": ["H", "L", "NL"], "title": null, "scale": {"paddingInner": 0.16, "paddingOuter": 0.44}, "axis": {"labelAngle": 0, "labelFontSize": 12.5, "labelPadding": 4}},
                "y": {"field": "pct", "type": "quantitative", "stack": "zero", "title": null, "scale": {"domain": [0, 100], "nice": false}, "axis": {"values": [0, 20, 40, 60, 80, 100], "tickCount": 6, "domain": false, "labelFontSize": 11.5, "labelPadding": 5}},
                "color": {"field": "type", "type": "nominal", "scale": {"domain": ["Bi", "Ipsi", "Contra"], "range": ["#7fcf88", "#4e63b3", "#ef5a5a"]}, "legend": null},
                "order": {"field": "rank", "type": "quantitative"}
              }
            },
            {
              "data": {"name": "bars"},
              "transform": [{"filter": "datum.panel === 'M1-FS'"}, {"stack": "pct", "groupby": ["group"], "sort": [{"field": "rank", "order": "ascending"}], "as": ["lo", "hi"]}, {"fold": ["lo", "hi"], "as": ["edge", "v"]}],
              "mark": {"type": "text", "color": "#fff", "fontSize": 11.5},
              "encoding": {
                "x": {"field": "group", "type": "nominal", "sort": ["H", "L", "NL"], "title": null},
                "y": {"aggregate": "mean", "field": "v", "type": "quantitative", "title": null, "axis": {"values": [0, 20, 40, 60, 80, 100], "tickCount": 6, "domain": false, "labelFontSize": 11.5, "labelPadding": 5}},
                "text": {"field": "pct", "type": "quantitative"},
                "detail": {"field": "type", "type": "nominal"}
              }
            },
            {
              "data": {"name": "sig"},
              "transform": [{"filter": "datum.panel === 'M1-FS' && datum.a === 'H' && datum.b === 'NL'"}],
              "layer": [
                {"mark": {"type": "rule", "color": "#333", "strokeWidth": 1}, "encoding": {"x": {"field": "a", "type": "nominal", "sort": ["H", "L", "NL"], "title": null}, "x2": {"field": "b"}, "y": {"datum": 120.5}}},
                {"mark": {"type": "text", "fontSize": 10, "color": "#333", "baseline": "alphabetic", "dy": -0.5}, "encoding": {"x": {"field": "a", "type": "nominal", "sort": ["H", "L", "NL"], "title": null, "bandPosition": 1.69}, "y": {"datum": 120.5}, "text": {"field": "p"}}}
              ]
            },
            {
              "data": {"name": "sig"},
              "transform": [{"filter": "datum.panel === 'M1-FS' && datum.a === 'H' && datum.b === 'L'"}],
              "layer": [
                {"mark": {"type": "rule", "color": "#333", "strokeWidth": 1}, "encoding": {"x": {"field": "a", "type": "nominal", "sort": ["H", "L", "NL"], "title": null}, "x2": {"field": "b"}, "y": {"datum": 112}}},
                {"mark": {"type": "text", "fontSize": 10, "color": "#333", "baseline": "alphabetic", "dy": -0.5}, "encoding": {"x": {"field": "a", "type": "nominal", "sort": ["H", "L", "NL"], "title": null, "bandPosition": 1.095}, "y": {"datum": 112}, "text": {"field": "p"}}}
              ]
            },
            {
              "data": {"name": "sig"},
              "transform": [{"filter": "datum.panel === 'M1-FS' && datum.a === 'L' && datum.b === 'NL'"}],
              "layer": [
                {"mark": {"type": "rule", "color": "#333", "strokeWidth": 1}, "encoding": {"x": {"field": "a", "type": "nominal", "sort": ["H", "L", "NL"], "title": null}, "x2": {"field": "b"}, "y": {"datum": 104.3}}},
                {"mark": {"type": "text", "fontSize": 10, "color": "#333", "baseline": "alphabetic", "dy": -0.5}, "encoding": {"x": {"field": "a", "type": "nominal", "sort": ["H", "L", "NL"], "title": null, "bandPosition": 1.095}, "y": {"datum": 104.3}, "text": {"field": "p"}}}
              ]
            }
          ]
        },
        {
          "width": 93, "height": 93,
          "title": {"text": "M2-RS", "fontSize": 13.5, "fontWeight": "normal", "color": "#111", "offset": 0},
          "layer": [
            {
              "data": {"name": "bars"},
              "transform": [{"filter": "datum.panel === 'M2-RS'"}],
              "mark": {"type": "bar", "stroke": "#222", "strokeWidth": 1},
              "encoding": {
                "x": {"field": "group", "type": "nominal", "sort": ["H", "L", "NL"], "title": null, "scale": {"paddingInner": 0.16, "paddingOuter": 0.44}, "axis": {"labelAngle": 0, "labelFontSize": 12.5, "labelPadding": 4}},
                "y": {"field": "pct", "type": "quantitative", "stack": "zero", "title": null, "scale": {"domain": [0, 100], "nice": false}, "axis": {"values": [0, 20, 40, 60, 80, 100], "tickCount": 6, "domain": false, "labelFontSize": 11.5, "labelPadding": 5}},
                "color": {"field": "type", "type": "nominal", "scale": {"domain": ["Bi", "Ipsi", "Contra"], "range": ["#7fcf88", "#4e63b3", "#ef5a5a"]}, "legend": null},
                "order": {"field": "rank", "type": "quantitative"}
              }
            },
            {
              "data": {"name": "bars"},
              "transform": [{"filter": "datum.panel === 'M2-RS'"}, {"stack": "pct", "groupby": ["group"], "sort": [{"field": "rank", "order": "ascending"}], "as": ["lo", "hi"]}, {"fold": ["lo", "hi"], "as": ["edge", "v"]}],
              "mark": {"type": "text", "color": "#fff", "fontSize": 11.5},
              "encoding": {
                "x": {"field": "group", "type": "nominal", "sort": ["H", "L", "NL"], "title": null},
                "y": {"aggregate": "mean", "field": "v", "type": "quantitative", "title": null, "axis": {"values": [0, 20, 40, 60, 80, 100], "tickCount": 6, "domain": false, "labelFontSize": 11.5, "labelPadding": 5}},
                "text": {"field": "pct", "type": "quantitative"},
                "detail": {"field": "type", "type": "nominal"}
              }
            },
            {
              "data": {"name": "sig"},
              "transform": [{"filter": "datum.panel === 'M2-RS' && datum.a === 'H' && datum.b === 'NL'"}],
              "layer": [
                {"mark": {"type": "rule", "color": "#333", "strokeWidth": 1}, "encoding": {"x": {"field": "a", "type": "nominal", "sort": ["H", "L", "NL"], "title": null}, "x2": {"field": "b"}, "y": {"datum": 120.5}}},
                {"mark": {"type": "text", "fontSize": 10, "color": "#333", "baseline": "alphabetic", "dy": -0.5}, "encoding": {"x": {"field": "a", "type": "nominal", "sort": ["H", "L", "NL"], "title": null, "bandPosition": 1.69}, "y": {"datum": 120.5}, "text": {"field": "p"}}}
              ]
            },
            {
              "data": {"name": "sig"},
              "transform": [{"filter": "datum.panel === 'M2-RS' && datum.a === 'H' && datum.b === 'L'"}],
              "layer": [
                {"mark": {"type": "rule", "color": "#333", "strokeWidth": 1}, "encoding": {"x": {"field": "a", "type": "nominal", "sort": ["H", "L", "NL"], "title": null}, "x2": {"field": "b"}, "y": {"datum": 112}}},
                {"mark": {"type": "text", "fontSize": 10, "color": "#333", "baseline": "alphabetic", "dy": -0.5}, "encoding": {"x": {"field": "a", "type": "nominal", "sort": ["H", "L", "NL"], "title": null, "bandPosition": 1.095}, "y": {"datum": 112}, "text": {"field": "p"}}}
              ]
            },
            {
              "data": {"name": "sig"},
              "transform": [{"filter": "datum.panel === 'M2-RS' && datum.a === 'L' && datum.b === 'NL'"}],
              "layer": [
                {"mark": {"type": "rule", "color": "#333", "strokeWidth": 1}, "encoding": {"x": {"field": "a", "type": "nominal", "sort": ["H", "L", "NL"], "title": null}, "x2": {"field": "b"}, "y": {"datum": 104.3}}},
                {"mark": {"type": "text", "fontSize": 10, "color": "#333", "baseline": "alphabetic", "dy": -0.5}, "encoding": {"x": {"field": "a", "type": "nominal", "sort": ["H", "L", "NL"], "title": null, "bandPosition": 1.095}, "y": {"datum": 104.3}, "text": {"field": "p"}}}
              ]
            }
          ]
        },
        {
          "width": 93, "height": 93,
          "title": {"text": "M2-FS", "fontSize": 13.5, "fontWeight": "normal", "color": "#111", "offset": 0},
          "layer": [
            {
              "data": {"name": "bars"},
              "transform": [{"filter": "datum.panel === 'M2-FS'"}],
              "mark": {"type": "bar", "stroke": "#222", "strokeWidth": 1},
              "encoding": {
                "x": {"field": "group", "type": "nominal", "sort": ["H", "L", "NL"], "title": null, "scale": {"paddingInner": 0.16, "paddingOuter": 0.44}, "axis": {"labelAngle": 0, "labelFontSize": 12.5, "labelPadding": 4}},
                "y": {"field": "pct", "type": "quantitative", "stack": "zero", "title": null, "scale": {"domain": [0, 100], "nice": false}, "axis": {"values": [0, 20, 40, 60, 80, 100], "tickCount": 6, "domain": false, "labelFontSize": 11.5, "labelPadding": 5}},
                "color": {
                  "field": "type", "type": "nominal",
                  "scale": {"domain": ["Bi", "Ipsi", "Contra"], "range": ["#7fcf88", "#4e63b3", "#ef5a5a"]},
                  "legend": {"orient": "none", "legendX": 72, "legendY": 49, "title": null, "padding": 0, "symbolSize": 0, "symbolStrokeWidth": 0, "labelOffset": 0, "labelFontSize": 13.5, "labelFontWeight": "bold", "rowPadding": -1,
                    "labelColor": {"expr": "datum.value === 'Bi' ? '#4cb85a' : datum.value === 'Ipsi' ? '#3c50b2' : '#e8393e'"}}
                },
                "order": {"field": "rank", "type": "quantitative"}
              }
            },
            {
              "data": {"name": "bars"},
              "transform": [{"filter": "datum.panel === 'M2-FS'"}, {"stack": "pct", "groupby": ["group"], "sort": [{"field": "rank", "order": "ascending"}], "as": ["lo", "hi"]}, {"fold": ["lo", "hi"], "as": ["edge", "v"]}, {"filter": "datum.pct >= 6"}],
              "mark": {"type": "text", "color": "#fff", "fontSize": 11.5},
              "encoding": {
                "x": {"field": "group", "type": "nominal", "sort": ["H", "L", "NL"], "title": null},
                "y": {"aggregate": "mean", "field": "v", "type": "quantitative", "title": null, "axis": {"values": [0, 20, 40, 60, 80, 100], "tickCount": 6, "domain": false, "labelFontSize": 11.5, "labelPadding": 5}},
                "text": {"field": "pct", "type": "quantitative"},
                "detail": {"field": "type", "type": "nominal"}
              }
            },
            {
              "data": {"name": "bars"},
              "transform": [{"filter": "datum.panel === 'M2-FS'"}, {"stack": "pct", "groupby": ["group"], "sort": [{"field": "rank", "order": "ascending"}], "as": ["lo", "hi"]}, {"fold": ["lo", "hi"], "as": ["edge", "v"]}, {"filter": "datum.pct < 6"}],
              "mark": {"type": "text", "color": "#fff", "fontSize": 11.5, "dy": -9},
              "encoding": {
                "x": {"field": "group", "type": "nominal", "sort": ["H", "L", "NL"], "title": null},
                "y": {"aggregate": "mean", "field": "v", "type": "quantitative", "title": null, "axis": {"values": [0, 20, 40, 60, 80, 100], "tickCount": 6, "domain": false, "labelFontSize": 11.5, "labelPadding": 5}},
                "text": {"field": "pct", "type": "quantitative"},
                "detail": {"field": "type", "type": "nominal"}
              }
            },
            {
              "data": {"name": "sig"},
              "transform": [{"filter": "datum.panel === 'M2-FS' && datum.a === 'H' && datum.b === 'NL'"}],
              "layer": [
                {"mark": {"type": "rule", "color": "#333", "strokeWidth": 1}, "encoding": {"x": {"field": "a", "type": "nominal", "sort": ["H", "L", "NL"], "title": null}, "x2": {"field": "b"}, "y": {"datum": 120.5}}},
                {"mark": {"type": "text", "fontSize": 10, "color": "#333", "baseline": "alphabetic", "dy": -0.5}, "encoding": {"x": {"field": "a", "type": "nominal", "sort": ["H", "L", "NL"], "title": null, "bandPosition": 1.69}, "y": {"datum": 120.5}, "text": {"field": "p"}}}
              ]
            },
            {
              "data": {"name": "sig"},
              "transform": [{"filter": "datum.panel === 'M2-FS' && datum.a === 'H' && datum.b === 'L'"}],
              "layer": [
                {"mark": {"type": "rule", "color": "#333", "strokeWidth": 1}, "encoding": {"x": {"field": "a", "type": "nominal", "sort": ["H", "L", "NL"], "title": null}, "x2": {"field": "b"}, "y": {"datum": 112}}},
                {"mark": {"type": "text", "fontSize": 10, "color": "#333", "baseline": "alphabetic", "dy": -0.5}, "encoding": {"x": {"field": "a", "type": "nominal", "sort": ["H", "L", "NL"], "title": null, "bandPosition": 1.095}, "y": {"datum": 112}, "text": {"field": "p"}}}
              ]
            },
            {
              "data": {"name": "sig"},
              "transform": [{"filter": "datum.panel === 'M2-FS' && datum.a === 'L' && datum.b === 'NL'"}],
              "layer": [
                {"mark": {"type": "rule", "color": "#333", "strokeWidth": 1}, "encoding": {"x": {"field": "a", "type": "nominal", "sort": ["H", "L", "NL"], "title": null}, "x2": {"field": "b"}, "y": {"datum": 104.3}}},
                {"mark": {"type": "text", "fontSize": 10, "color": "#333", "baseline": "alphabetic", "dy": -0.5}, "encoding": {"x": {"field": "a", "type": "nominal", "sort": ["H", "L", "NL"], "title": null, "bandPosition": 1.095}, "y": {"datum": 104.3}, "text": {"field": "p"}}}
              ]
            }
          ]
        }
      ]
    }
  ]
}
